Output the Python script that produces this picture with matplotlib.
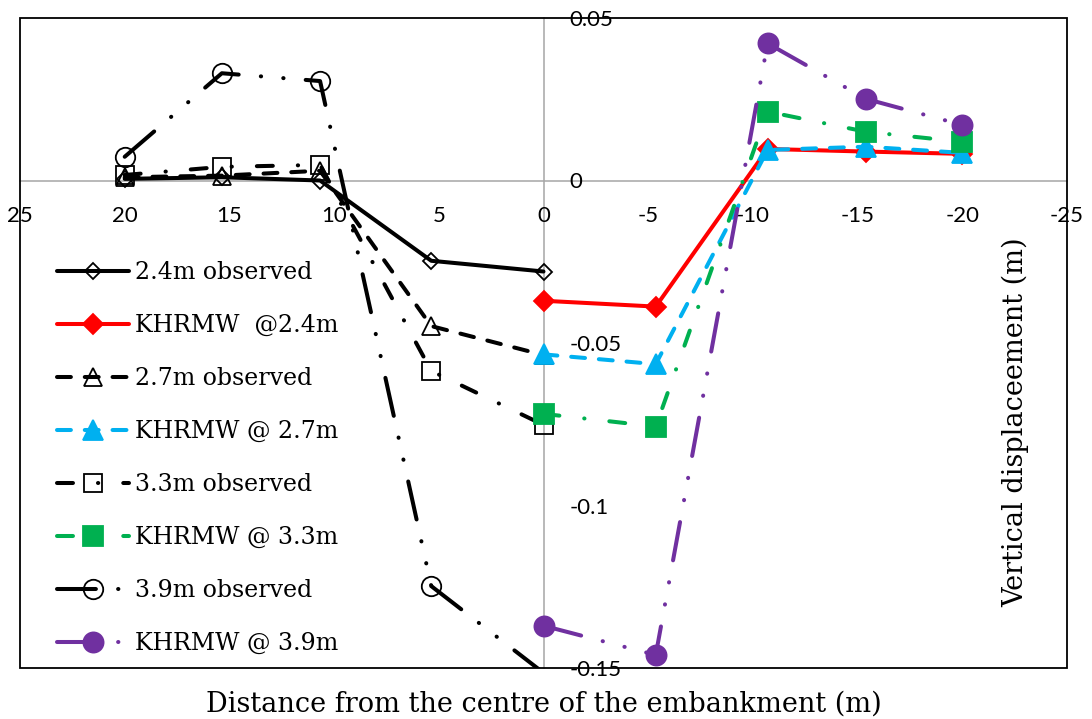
import matplotlib
matplotlib.use("Agg")
import matplotlib.pyplot as plt
from matplotlib.patches import Rectangle

# Survey stations (m from the embankment centre)
x_observed = [20, 15.36, 10.67, 5.36, 0]
x_model = [0, -5.36, -10.7, -15.4, -20]

# Vertical displacement (m)
obs_24 = [0.0005, 0.001, 0.0, -0.0247, -0.028]
mod_24 = [-0.037, -0.0388, 0.0097, 0.0089, 0.0082]
obs_27 = [0.001, 0.0015, 0.003, -0.0448, -0.0537]
mod_27 = [-0.0535, -0.0565, 0.0094, 0.0104, 0.0085]
obs_33 = [0.0017, 0.0042, 0.0048, -0.0586, -0.0752]
mod_33 = [-0.0718, -0.0757, 0.0212, 0.015, 0.0119]
obs_39 = [0.0073, 0.033, 0.0306, -0.1248, -0.1515]
mod_39 = [-0.137, -0.146, 0.0422, 0.0251, 0.0171]

labels = ["2.4m observed", "KHRMW  @2.4m", "2.7m observed", "KHRMW @ 2.7m",
          "3.3m observed", "KHRMW @ 3.3m", "3.9m observed", "KHRMW @ 3.9m"]

x_ticks = [25, 20, 15, 10, 5, 0, -5, -10, -15, -20, -25]
y_ticks = [0.05, 0, -0.05, -0.1, -0.15]
y_tick_labels = ["0.05", "0", "-0.05", "-0.1", "-0.15"]

plt.rcParams["lines.scale_dashes"] = False
plt.rcParams["axes.unicode_minus"] = False

W, H = 1092, 719
fig = plt.figure(figsize=(W / 100, H / 100), dpi=100)
left, right, top, bottom = 20, 1067, 18, 668
ax = fig.add_axes([left / W, 1 - bottom / H, (right - left) / W, (bottom - top) / H])

ax.set_xlim(25, -25)
ax.set_ylim(-0.15, 0.05)

BLUE = "#00B0F0"
GREEN = "#00B050"
PURPLE = "#7030A0"
RED = "#FF0000"

LW = 2.9
dashed = (0, (10, 10))
dash_dot = (0, (11.5, 18, 0.2, 18))
dash_dot_dot = (0, (28, 16, 0.2, 16, 0.2, 16))

ymin, ymax = ax.get_ylim()


def visible(vals):
    return [i for i, v in enumerate(vals) if ymin <= v <= ymax]


styles = [
    (x_observed, obs_24, "black", "-", "D", 8.5, "none"),
    (x_model, mod_24, RED, "-", "D", 10.5, RED),
    (x_observed, obs_27, "black", dashed, "^", 13.5, "none"),
    (x_model, mod_27, BLUE, dashed, "^", 14, BLUE),
    (x_observed, obs_33, "black", dash_dot, "s", 13, "none"),
    (x_model, mod_33, GREEN, dash_dot, "s", 14, GREEN),
    (x_observed, obs_39, "black", dash_dot_dot, "o", 14, "none"),
    (x_model, mod_39, PURPLE, dash_dot_dot, "o", 14.5, PURPLE),
]

for (xs, ys, color, ls, marker, ms, mfc), label in zip(styles, labels):
    ax.plot(xs, ys, color=color, linestyle=ls, linewidth=LW,
            marker=marker, markersize=ms, markerfacecolor=mfc,
            markeredgecolor=color, markeredgewidth=1.3,
            markevery=visible(ys),
            dash_capstyle="round", solid_capstyle="round",
            label=label, zorder=3)

# Axes crossing at the origin, drawn in grey
for side in ["top", "left"]:
    ax.spines[side].set_visible(False)
ax.spines["bottom"].set_position(("data", 0))
ax.spines["right"].set_position(("data", 0))
for side in ["bottom", "right"]:
    ax.spines[side].set_color("#a6a6a6")
    ax.spines[side].set_linewidth(1.1)
    ax.spines[side].set_zorder(1)

# Black outer frame of the plot area
ax.add_patch(Rectangle((0, 0), 1, 1, transform=ax.transAxes, fill=False,
                       edgecolor="black", linewidth=1.3, clip_on=False, zorder=5))

ax.yaxis.tick_right()
ax.set_xticks(x_ticks)
ax.set_xticklabels([str(t) for t in x_ticks])
ax.set_yticks(y_ticks)
ax.set_yticklabels(y_tick_labels)
ax.tick_params(axis="x", length=0, pad=18.5)
ax.tick_params(axis="y", length=0, pad=18.5)
for t in ax.get_xticklabels() + ax.get_yticklabels():
    t.set_fontfamily("Lato")
    t.set_fontsize(16)

serif = "DejaVu Serif"
fig.text(544 / W, 1 - 712 / H, "Distance from the centre of the embankment (m)",
         ha="center", va="baseline", fontsize=19.5, family=serif)
fig.text(1016 / W, 1 - 422 / H, "Vertical displaceement (m)", rotation=90,
         ha="center", va="center", fontsize=19.5, family=serif)

leg = ax.legend(loc="upper left", bbox_to_anchor=(57 / W, 1 - 261 / H),
                bbox_transform=fig.transFigure, frameon=False,
                prop=dict(family=serif, size=17), numpoints=1,
                handlelength=3.05, handletextpad=0.25, labelspacing=1.27,
                borderpad=0, borderaxespad=0)

fig.savefig("out.png", dpi=100)
